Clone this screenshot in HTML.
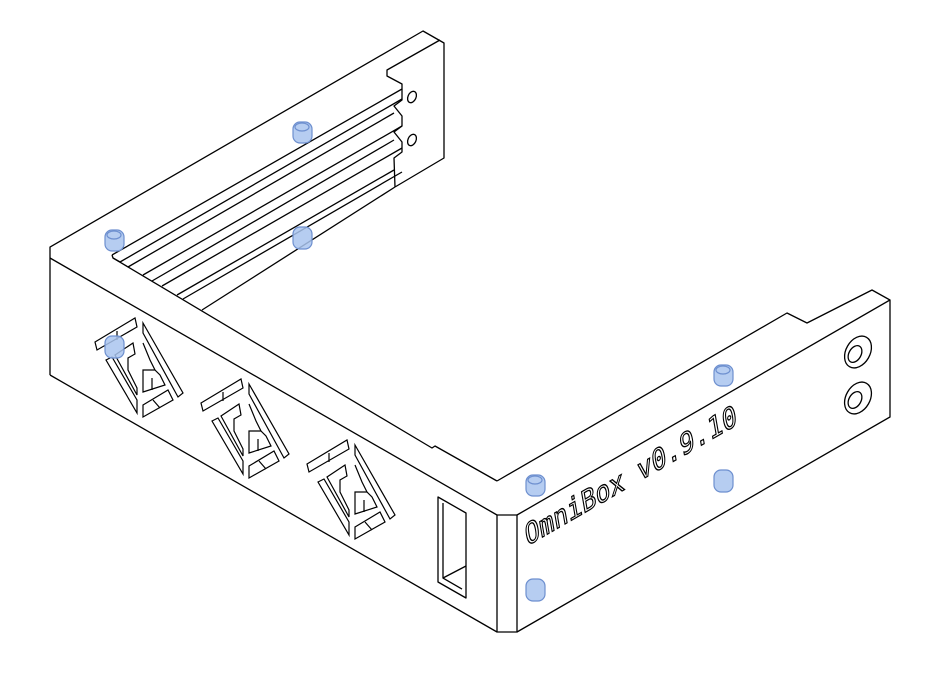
<!DOCTYPE html>
<html><head><meta charset="utf-8"><style>
html,body{margin:0;padding:0;background:#fff;}
svg{display:block}
</style></head><body>
<svg width="931" height="691" viewBox="0 0 931 691" xmlns="http://www.w3.org/2000/svg">
<g fill="none" stroke="#000" stroke-width="1.3" stroke-linejoin="round">
  <polyline points="50,258 50,247 423,31 444,43 444,158 395,187"/>
  <polyline points="112,255 402,89 402,84 387,76 387,70 440,40"/>
  <polyline points="402,89 402,100 394,106 402,116 402,126 394,132 402,142 402,152 394,158 395,187"/>
  <g>
    <polyline points="112,255 113,258 120,262"/>
    <line x1="120" y1="262" x2="402" y2="99"/>
    <line x1="128" y1="267" x2="394" y2="113"/>
    <line x1="143" y1="275" x2="402" y2="126"/>
    <line x1="152" y1="281" x2="394" y2="140"/>
    <line x1="162" y1="286" x2="402" y2="148"/>
    <line x1="177" y1="295" x2="394" y2="170"/>
    <line x1="183" y1="299" x2="402" y2="172"/>
    <line x1="202" y1="310" x2="395" y2="187"/>
  </g>
  <line x1="50" y1="258" x2="50" y2="375"/>
  <line x1="50" y1="375" x2="497" y2="632"/>
  <line x1="50" y1="258" x2="497" y2="515"/>
  <polyline points="113,258 432,448 435,446 497,481"/>
  <polyline points="497,515 497,632 517,632 517,515 497,515"/>
  <polyline points="497,481 787,313 807,323 872,290 890,300 890,417 517,632"/>
  <line x1="517" y1="515" x2="890" y2="300"/>
  <polygon points="438,497 466,513 466,598 438,582"/>
  <polyline points="443,503 443,578 462,589"/>
  <line x1="443" y1="578" x2="466" y2="566"/>
  <ellipse cx="858" cy="352" rx="12" ry="17" transform="rotate(30 858 352)"/>
  <ellipse cx="855" cy="354" rx="6" ry="9" transform="rotate(30 855 354)"/>
  <ellipse cx="858" cy="398" rx="12" ry="17" transform="rotate(30 858 398)"/>
  <ellipse cx="855" cy="400" rx="6" ry="9" transform="rotate(30 855 400)"/>
  <ellipse cx="412" cy="97" rx="4" ry="6" transform="rotate(25 412 97)"/>
  <ellipse cx="412" cy="140" rx="4" ry="6" transform="rotate(25 412 140)"/>
</g>
<defs>
<g id="vent" fill="none" stroke="#000" stroke-width="1.2">
  <polygon points="95,342 135,318 137,327 97,350"/>
  <line x1="117" y1="331" x2="117" y2="340"/>
  <polygon points="143,323 183,393 178,397 143,333"/>
  <polygon points="106,360 112,357 137,400 137,413"/>
  <polygon points="115,355 133,343 135,354 128,358 128,370 137,388 137,395"/>
  <polygon points="143,405 168,390 173,400 143,417"/>
  <line x1="153" y1="400" x2="160" y2="408"/>
  <polyline points="143,343 150,360 155,370 160,375 165,385 143,392 143,370 155,370"/>
  <line x1="152" y1="378" x2="152" y2="390"/>
</g>
</defs>
<g>
  <use href="#vent"/>
  <use href="#vent" transform="translate(106,61)"/>
  <use href="#vent" transform="translate(212,122)"/>
</g>
<g fill="#a9c4ee" fill-opacity="0.85" stroke="#6d8fcf" stroke-width="1.2">
  <rect x="293" y="122" width="19" height="21" rx="7"/>
  <rect x="105" y="230" width="19" height="21" rx="7"/>
  <rect x="293" y="227" width="19" height="22" rx="7"/>
  <rect x="105" y="336" width="19" height="22" rx="7"/>
  <rect x="714" y="365" width="19" height="21" rx="7"/>
  <rect x="526" y="475" width="19" height="21" rx="7"/>
  <rect x="714" y="470" width="19" height="22" rx="7"/>
  <rect x="526" y="579" width="19" height="22" rx="7"/>
  <g fill="none">
    <ellipse cx="302" cy="127" rx="7" ry="4"/>
    <ellipse cx="114" cy="235" rx="7" ry="4"/>
    <ellipse cx="723" cy="370" rx="7" ry="4"/>
    <ellipse cx="535" cy="480" rx="7" ry="4"/>
  </g>
</g>
<text x="0" y="0" transform="translate(527,546) rotate(-30) skewX(-20)" font-family="'DejaVu Sans Mono','Liberation Mono',monospace" font-size="27" fill="#fff" stroke="#000" stroke-width="1.2">OmniBox v0.9.10</text>
</svg>
</body></html>
